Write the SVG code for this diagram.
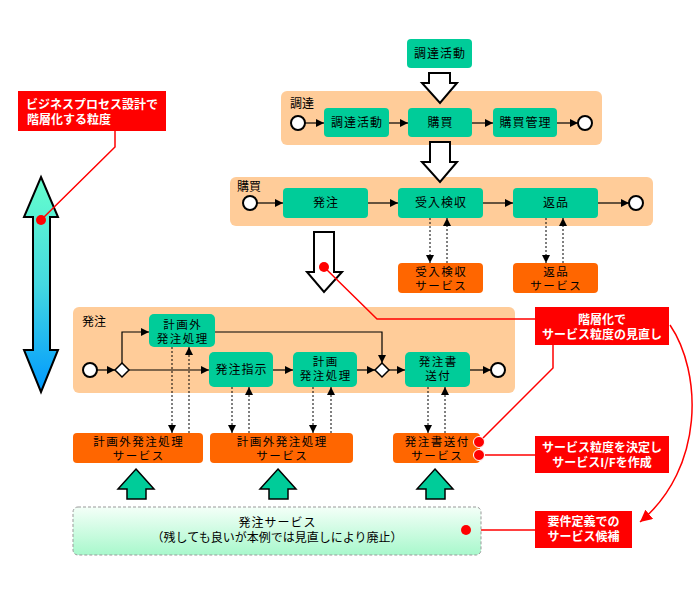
<svg xmlns="http://www.w3.org/2000/svg" width="700" height="600" viewBox="0 0 700 600">
<defs>
<linearGradient id="gArrow" x1="0" y1="0" x2="0" y2="1">
<stop offset="0" stop-color="#66FFCC"/>
<stop offset="0.5" stop-color="#44D8E0"/>
<stop offset="1" stop-color="#0099FF"/>
</linearGradient>
<linearGradient id="gSvc" x1="0" y1="0" x2="0" y2="1">
<stop offset="0" stop-color="#F4FFF8"/>
<stop offset="1" stop-color="#A8F8CC"/>
</linearGradient>
<marker id="ah" viewBox="0 0 10 10" refX="10" refY="5" markerWidth="8" markerHeight="8" markerUnits="userSpaceOnUse" orient="auto">
<path d="M0,0 L10,5 L0,10 Z" fill="#000"/>
</marker>
<marker id="ahs" viewBox="0 0 10 10" refX="10" refY="5" markerWidth="8" markerHeight="8" markerUnits="userSpaceOnUse" orient="auto">
<path d="M0,0 L10,5 L0,10 Z" fill="#000"/>
</marker>
<marker id="ahr" viewBox="0 0 10 10" refX="10" refY="5" markerWidth="12" markerHeight="12" markerUnits="userSpaceOnUse" orient="auto">
<path d="M0,0 L10,5 L0,10 Z" fill="#F00"/>
</marker>
</defs>
<style>
text{font-family:"Noto Sans CJK JP","Noto Sans",sans-serif;}
.cont{fill:#FFCC99;}
.cl{font-size:12px;fill:#000;}
.task{fill:#00CC99;}
.tt{font-size:12px;letter-spacing:1px;fill:#000;text-anchor:middle;}
.tt2{font-size:11.5px;letter-spacing:1.5px;fill:#000;text-anchor:middle;}
.svc{fill:#FF6600;}
.red{fill:#FF0000;}
.rt{font-size:12px;fill:#FFF;font-weight:bold;text-anchor:middle;}
.ev{fill:#FFF;stroke:#000;stroke-width:2;}
.gw{fill:#FFF;stroke:#000;stroke-width:1.5;}
.flow{stroke:#000;stroke-width:1.2;fill:none;marker-end:url(#ah);}
.dot{stroke:#000;stroke-width:1;stroke-dasharray:2,2;fill:none;marker-end:url(#ahs);}
.rl{stroke:#F00;stroke-width:1.5;fill:none;}
.rd{fill:#F00;}
.wa{fill:#FFF;stroke:#000;stroke-width:2;}
.ga{fill:#00CC99;stroke:#000;stroke-width:1.5;}
</style>

<!-- containers -->
<g id="pool-chotatsu">
<rect class="cont" x="281" y="91" width="321" height="54" rx="6"/>
<text class="cl" x="290" y="108">調達</text>
</g>
<g id="pool-konyu">
<rect class="cont" x="230" y="177" width="423" height="49" rx="6"/>
<text class="cl" x="237" y="191">購買</text>
</g>
<g id="pool-hatchu">
<rect class="cont" x="73" y="307" width="442" height="86" rx="6"/>
<text class="cl" x="82" y="326">発注</text>
</g>

<!-- big arrows -->
<g id="arrow-left">
<polygon points="41,177 58,217 50,217 50,350 58,350 41,392 24,350 33,350 33,217 24,217" fill="url(#gArrow)" stroke="#000" stroke-width="2"/>
</g>
<g id="white-arrow-1">
<polygon class="wa" points="429,73 450,73 450,83 457,83 440,103 422,83 429,83"/>
</g>
<g id="white-arrow-2">
<polygon class="wa" points="430,142 450,142 450,162 457,162 440,182 422,162 430,162"/>
</g>
<g id="white-arrow-3">
<polygon class="wa" points="314,232 334,232 334,272 342,272 324,292 307,272 314,272"/>
</g>
<g id="green-arrow-1"><polygon class="ga" points="136,469 154,489 146,489 146,499 127,499 127,489 118,489"/></g>
<g id="green-arrow-2"><polygon class="ga" points="278,469 296,489 288,489 288,499 269,499 269,489 260,489"/></g>
<g id="green-arrow-3"><polygon class="ga" points="435,469 453,489 445,489 445,499 426,499 426,489 417,489"/></g>

<!-- connectors -->
<g id="connectors">
<path class="flow" d="M305,123 L324,123"/>
<path class="flow" d="M389,123 L408,123"/>
<path class="flow" d="M472,123 L493,123"/>
<path class="flow" d="M557,123 L578,123"/>

<path class="flow" d="M257,203 L283,203"/>
<path class="flow" d="M368,203 L398,203"/>
<path class="flow" d="M483,203 L513,203"/>
<path class="flow" d="M598,203 L629,203"/>

<path class="flow" d="M97,370 L115,370"/>
<path class="flow" d="M129,370 L209,370"/>
<path class="flow" d="M122,363 L122,332 L149,332"/>
<path class="flow" d="M215,332 L382,332 L382,363"/>
<path class="flow" d="M273,370 L293,370"/>
<path class="flow" d="M357,370 L375,370"/>
<path class="flow" d="M389,370 L405,370"/>
<path class="flow" d="M470,370 L491,370"/>

<path class="dot" d="M430,218 L430,263"/>
<path class="dot" d="M447,263 L447,218"/>
<path class="dot" d="M546,218 L546,263"/>
<path class="dot" d="M563,263 L563,218"/>

<path class="dot" d="M172,347 L172,433"/>
<path class="dot" d="M189,433 L189,347"/>
<path class="dot" d="M232,387 L232,433"/>
<path class="dot" d="M249,433 L249,387"/>
<path class="dot" d="M313,387 L313,433"/>
<path class="dot" d="M331,433 L331,387"/>
<path class="dot" d="M428,387 L428,433"/>
<path class="dot" d="M445,433 L445,387"/>

<!-- red annotation lines -->
<path class="rl" d="M115,131 L115,147 L41,220"/>
<path class="rl" d="M324,267 L377,319 L535,319"/>
<path class="rl" d="M553,345 L553,368 L479,442"/>
<path class="rl" d="M479,455 L535,455"/>
<path class="rl" d="M466,530 L535,530"/>
<path class="rl" d="M670,325 C702,372 705,468 640,522" marker-end="url(#ahr)"/>
</g>

<!-- events & gateways -->
<g id="ev-chotatsu-start"><circle class="ev" cx="298" cy="123" r="7"/></g>
<g id="ev-chotatsu-end"><circle class="ev" cx="585" cy="123" r="7"/></g>
<g id="ev-konyu-start"><circle class="ev" cx="250" cy="203" r="7"/></g>
<g id="ev-konyu-end"><circle class="ev" cx="636" cy="203" r="7"/></g>
<g id="ev-hatchu-start"><circle class="ev" cx="90" cy="370" r="7"/></g>
<g id="ev-hatchu-end"><circle class="ev" cx="498" cy="370" r="7"/></g>
<g id="gw-1"><polygon class="gw" points="122,363 129,370 122,377 115,370"/></g>
<g id="gw-2"><polygon class="gw" points="382,363 389,370 382,377 375,370"/></g>

<!-- tasks -->
<g id="task-top"><rect class="task" x="407" y="39" width="65" height="29" rx="4"/><text class="tt" x="440" y="58">調達活動</text></g>
<g id="task-chotatsu"><rect class="task" x="324" y="108" width="65" height="29" rx="4"/><text class="tt" x="357" y="127">調達活動</text></g>
<g id="task-konyu"><rect class="task" x="408" y="108" width="64" height="29" rx="4"/><text class="tt" x="440.5" y="127">購買</text></g>
<g id="task-konyukanri"><rect class="task" x="493" y="108" width="64" height="29" rx="4"/><text class="tt" x="525.5" y="127">購買管理</text></g>

<g id="task-hatchu"><rect class="task" x="283" y="188" width="85" height="30" rx="4"/><text class="tt" x="326" y="207">発注</text></g>
<g id="task-ukeire"><rect class="task" x="398" y="188" width="85" height="30" rx="4"/><text class="tt" x="441" y="207">受入検収</text></g>
<g id="task-henpin"><rect class="task" x="513" y="188" width="85" height="30" rx="4"/><text class="tt" x="556" y="207">返品</text></g>

<g id="task-keikakugai"><rect class="task" x="149" y="314" width="66" height="33" rx="5"/><text class="tt2" x="182.8" y="329">計画外</text><text class="tt2" x="182.8" y="343">発注処理</text></g>
<g id="task-shiji"><rect class="task" x="209" y="352" width="64" height="35" rx="5"/><text class="tt" x="241.5" y="374">発注指示</text></g>
<g id="task-keikaku"><rect class="task" x="293" y="352" width="64" height="35" rx="5"/><text class="tt2" x="325.8" y="366">計画</text><text class="tt2" x="325.8" y="380">発注処理</text></g>
<g id="task-sofu"><rect class="task" x="405" y="352" width="65" height="35" rx="5"/><text class="tt2" x="438.3" y="366">発注書</text><text class="tt2" x="438.3" y="380">送付</text></g>

<!-- services -->
<g id="svc-ukeire"><rect class="svc" x="398" y="263" width="85" height="30" rx="4"/><text class="tt2" x="441.3" y="275.5">受入検収</text><text class="tt2" x="441.3" y="289.5">サービス</text></g>
<g id="svc-henpin"><rect class="svc" x="513" y="263" width="85" height="30" rx="4"/><text class="tt2" x="556.3" y="275.5">返品</text><text class="tt2" x="556.3" y="289.5">サービス</text></g>
<g id="svc-keikakugai-1"><rect class="svc" x="73" y="433" width="130" height="30" rx="4"/><text class="tt2" x="138.8" y="445.5">計画外発注処理</text><text class="tt2" x="138.8" y="459.5">サービス</text></g>
<g id="svc-keikakugai-2"><rect class="svc" x="210" y="433" width="143" height="30" rx="4"/><text class="tt2" x="282.3" y="445.5">計画外発注処理</text><text class="tt2" x="282.3" y="459.5">サービス</text></g>
<g id="svc-sofu"><rect class="svc" x="393" y="433" width="87" height="30" rx="4"/><text class="tt2" x="437.3" y="445.5">発注書送付</text><text class="tt2" x="437.3" y="459.5">サービス</text></g>

<g id="svc-hatchu">
<rect x="73" y="507" width="408" height="48" rx="5" fill="url(#gSvc)" stroke="#999" stroke-width="1" stroke-dasharray="3,2"/>
<text class="tt" x="277.5" y="527">発注サービス</text>
<text class="tt" x="277" y="541.5" style="letter-spacing:0">（残しても良いが本例では見直しにより廃止）</text>
</g>

<!-- red dots -->
<g id="red-dots">
<circle class="rd" cx="41" cy="220" r="5"/>
<circle class="rd" cx="324" cy="267" r="5"/>
<circle class="rd" cx="479" cy="442" r="5.5" stroke="#FFF" stroke-width="1"/>
<circle class="rd" cx="479" cy="455" r="5.5" stroke="#FFF" stroke-width="1"/>
<circle class="rd" cx="466" cy="530" r="5"/>
</g>

<!-- red notes -->
<g id="note-granularity"><rect class="red" x="18" y="91" width="148" height="40"/><text class="rt" x="92" y="109">ビジネスプロセス設計で</text><text class="rt" x="69" y="123.5">階層化する粒度</text></g>
<g id="note-hierarchy"><rect class="red" x="535" y="307" width="134" height="38"/><text class="rt" x="602" y="324">階層化で</text><text class="rt" x="602" y="338.5">サービス粒度の見直し</text></g>
<g id="note-decide"><rect class="red" x="535" y="436" width="134" height="37"/><text class="rt" x="602" y="452">サービス粒度を決定し</text><text class="rt" x="602" y="466.5">サービスI/Fを作成</text></g>
<g id="note-candidate"><rect class="red" x="535" y="511" width="97" height="37"/><text class="rt" x="583.5" y="526">要件定義での</text><text class="rt" x="583.5" y="540.5">サービス候補</text></g>
</svg>
